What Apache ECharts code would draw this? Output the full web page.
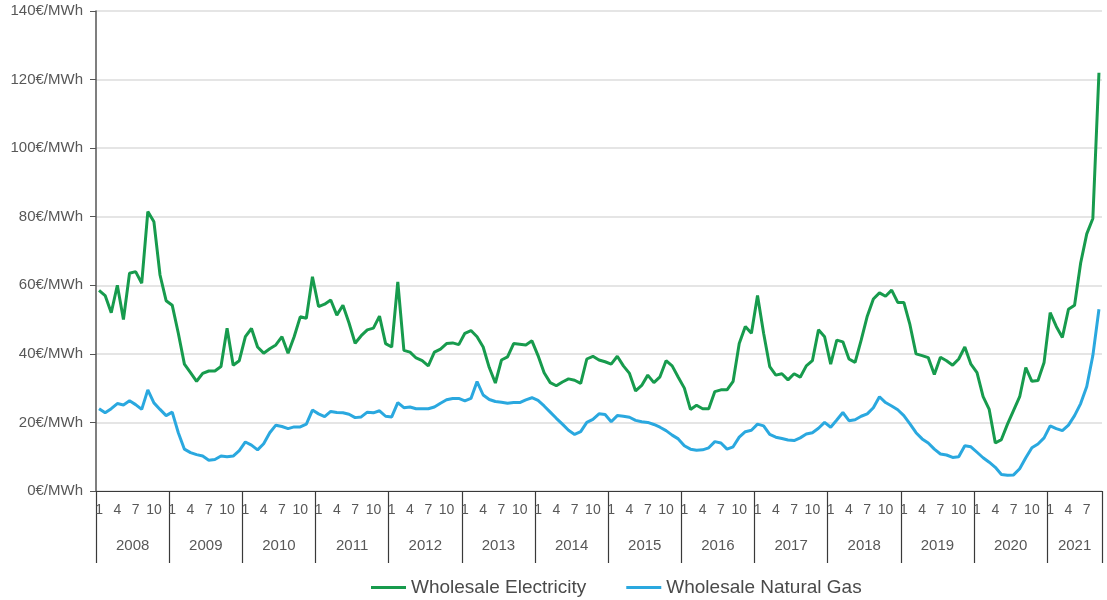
<!DOCTYPE html>
<html>
<head>
<meta charset="utf-8">
<script src="https://cdn.jsdelivr.net/npm/echarts@6/dist/echarts.min.js"></script>
<style>
html,body{margin:0;padding:0;background:#ffffff;}
#chart{width:1107px;height:600px;}
</style>
</head>
<body>
<div id="chart"></div>
<script>
// ---- data ----
const years = [2008, 2009, 2010, 2011, 2012, 2013, 2014, 2015, 2016, 2017, 2018, 2019, 2020, 2021];
const monthsPerYear = [12, 12, 12, 12, 12, 12, 12, 12, 12, 12, 12, 12, 12, 9];
const monthTickLabels = [1, 4, 7, 10];
const yTickValues = [0, 20, 40, 60, 80, 100, 120, 140];
const unitLabel = '€/MWh';

const electricity = [
  58.5, 57, 52, 60, 50, 63.5, 64, 60.6, 81.5, 78.5, 63, 55.5,
  54.2, 46, 37, 34.5, 32, 34.3, 35, 35, 36.3, 47.5, 36.7, 38,
  45, 47.4, 42, 40.2, 41.5, 42.6, 45, 40.2, 45, 50.8, 50.4, 62.5,
  53.8, 54.5, 55.7, 51.3, 54.2, 49, 43.1, 45.3, 47, 47.5, 51, 43,
  42, 61, 41, 40.5, 38.8, 38, 36.5, 40.5, 41.4, 43, 43.2, 42.7,
  46, 46.8, 45, 42, 36, 31.5, 38.2, 39.1, 43, 42.8, 42.6, 43.8,
  39.5, 34.5, 31.6, 30.7, 31.8, 32.7, 32.3, 31.4, 38.5, 39.3, 38.2, 37.7,
  37, 39.3, 36.5, 34.3, 29.2, 30.8, 33.8, 31.6, 33.3, 38, 36.5, 33.2,
  30, 23.8, 25, 24, 24, 29, 29.5, 29.5, 32, 43, 48, 46,
  57, 46, 36.3, 33.8, 34.2, 32.4, 34.2, 33.2, 36.5, 38, 47, 45,
  37, 44, 43.5, 38.5, 37.5, 44, 51, 56, 57.8, 56.8, 58.6, 55,
  55, 48.5, 40, 39.5, 38.9, 34, 39, 38, 36.7, 38.5, 42, 37,
  34.5, 27.5, 23.8, 14, 15, 19.5, 23.5, 27.5, 36, 32, 32.2, 37.5,
  52, 48, 44.8, 53, 54.2, 66.5, 75, 79.5, 122
];

const naturalGas = [
  24, 22.8, 24, 25.5, 25.1, 26.3, 25.2, 23.8, 29.5, 25.7, 23.8, 22,
  23, 17, 12.2, 11.2, 10.6, 10.2, 9, 9.2, 10.2, 10, 10.2, 11.8,
  14.3, 13.4, 12, 13.8, 17, 19.2, 18.8, 18.2, 18.7, 18.7, 19.5, 23.6,
  22.5, 21.7, 23.2, 22.9, 22.8, 22.4, 21.4, 21.6, 23, 22.8, 23.4, 21.8,
  21.6, 25.8, 24.3, 24.5, 24, 24, 24, 24.5, 25.6, 26.6, 27, 27,
  26.3, 27, 31.9, 28, 26.7, 26.1, 25.9, 25.6, 25.8, 25.8, 26.6, 27.2,
  26.4, 24.8, 23, 21.2, 19.5, 17.7, 16.5, 17.3, 20, 20.9, 22.5, 22.3,
  20.2, 22, 21.8, 21.5, 20.6, 20.2, 20, 19.4, 18.6, 17.6, 16.3, 15.2,
  13.2, 12.2, 11.9, 12, 12.6, 14.4, 14, 12.2, 12.9, 15.7, 17.3, 17.7,
  19.5, 19, 16.5, 15.7, 15.3, 14.9, 14.7, 15.5, 16.6, 17, 18.3, 20,
  18.6, 20.7, 22.9, 20.5, 20.8, 21.8, 22.5, 24.3, 27.5, 25.8, 24.8, 23.7,
  22, 19.6, 17, 15.2, 14, 12.2, 10.8, 10.5, 9.8, 10, 13.2, 12.9,
  11.3, 9.7, 8.4, 6.9, 4.8, 4.6, 4.7, 6.5, 9.7, 12.6, 13.7, 15.5,
  19, 18.2, 17.6, 19.2, 22, 25.5, 30.5, 39.5, 53
];

const seriesNames = ['Wholesale Electricity', 'Wholesale Natural Gas'];

// ---- build category axis ----
const categories = [];
const catMonth = [];
const catYearIdx = [];
years.forEach(function (y, k) {
  for (let m = 1; m <= monthsPerYear[k]; m++) {
    categories.push(y + '-' + m);
    catMonth.push(m);
    catYearIdx.push(k);
  }
});
// middle category of each year (where the year label sits)
function isYearLabel(i) {
  const k = catYearIdx[i];
  const n = monthsPerYear[k];
  const mid = n === 12 ? 7 : Math.ceil(n / 2);
  return catMonth[i] === mid;
}

const FONT = 'Liberation Sans, Arial, sans-serif';
const chart = echarts.init(document.getElementById('chart'), null, {renderer: 'canvas'});
chart.setOption({
  animation: false,
  backgroundColor: '#ffffff',
  grid: {left: 96, right: 5, top: 11, bottom: 109, containLabel: false},
  legend: {
    data: seriesNames,
    left: 366,
    top: 573,
    icon: 'rect',
    itemWidth: 35,
    itemHeight: 3,
    itemGap: 40,
    textStyle: {fontFamily: FONT, fontSize: 19, color: '#4a4a4a'}
  },
  xAxis: [
    {
      type: 'category',
      position: 'bottom',
      data: categories,
      boundaryGap: true,
      axisLine: {show: true, lineStyle: {color: '#3a3a3a', width: 1.2}},
      axisTick: {
        show: true,
        interval: function (i) { return catMonth[i] === 1; },
        length: 72,
        lineStyle: {color: '#3a3a3a', width: 1.2}
      },
      axisLabel: {
        interval: function (i) { return monthTickLabels.indexOf(catMonth[i]) >= 0; },
        formatter: function (v, i) { return String(catMonth[i]); },
        margin: 12,
        fontFamily: FONT,
        fontSize: 14,
        color: '#585858'
      },
      splitLine: {show: false}
    },
    {
      type: 'category',
      position: 'bottom',
      data: categories,
      boundaryGap: true,
      axisLine: {show: false},
      axisTick: {show: false},
      axisLabel: {
        interval: function (i) { return isYearLabel(i); },
        formatter: function (v, i) {
          const k = catYearIdx[i];
          return monthsPerYear[k] === 12 ? '{f|' + years[k] + '}' : '{p|' + years[k] + '}';
        },
        margin: 47,
        rich: {
          f: {fontFamily: FONT, fontSize: 15, color: '#585858', padding: [0, 6, 0, 0]},
          p: {fontFamily: FONT, fontSize: 15, color: '#585858'}
        }
      },
      splitLine: {show: false}
    }
  ],
  yAxis: {
    type: 'value',
    min: yTickValues[0],
    max: yTickValues[yTickValues.length - 1],
    interval: yTickValues[1] - yTickValues[0],
    axisLine: {show: true, lineStyle: {color: '#555555', width: 1.5}},
    axisTick: {show: true, length: 6, lineStyle: {color: '#555555'}},
    axisLabel: {
      formatter: function (v) { return v + unitLabel; },
      margin: 13,
      fontFamily: FONT,
      fontSize: 15,
      color: '#585858'
    },
    splitLine: {show: true, lineStyle: {color: '#dcdcdc', width: 1.5}}
  },
  series: [
    {
      name: seriesNames[0],
      type: 'line',
      data: electricity,
      xAxisIndex: 0,
      symbol: 'none',
      lineStyle: {color: '#179b4d', width: 3},
      itemStyle: {color: '#179b4d'},
      z: 3
    },
    {
      name: seriesNames[1],
      type: 'line',
      data: naturalGas,
      xAxisIndex: 0,
      symbol: 'none',
      lineStyle: {color: '#2aa8df', width: 3},
      itemStyle: {color: '#2aa8df'},
      z: 2
    }
  ]
});
</script>
</body>
</html>
